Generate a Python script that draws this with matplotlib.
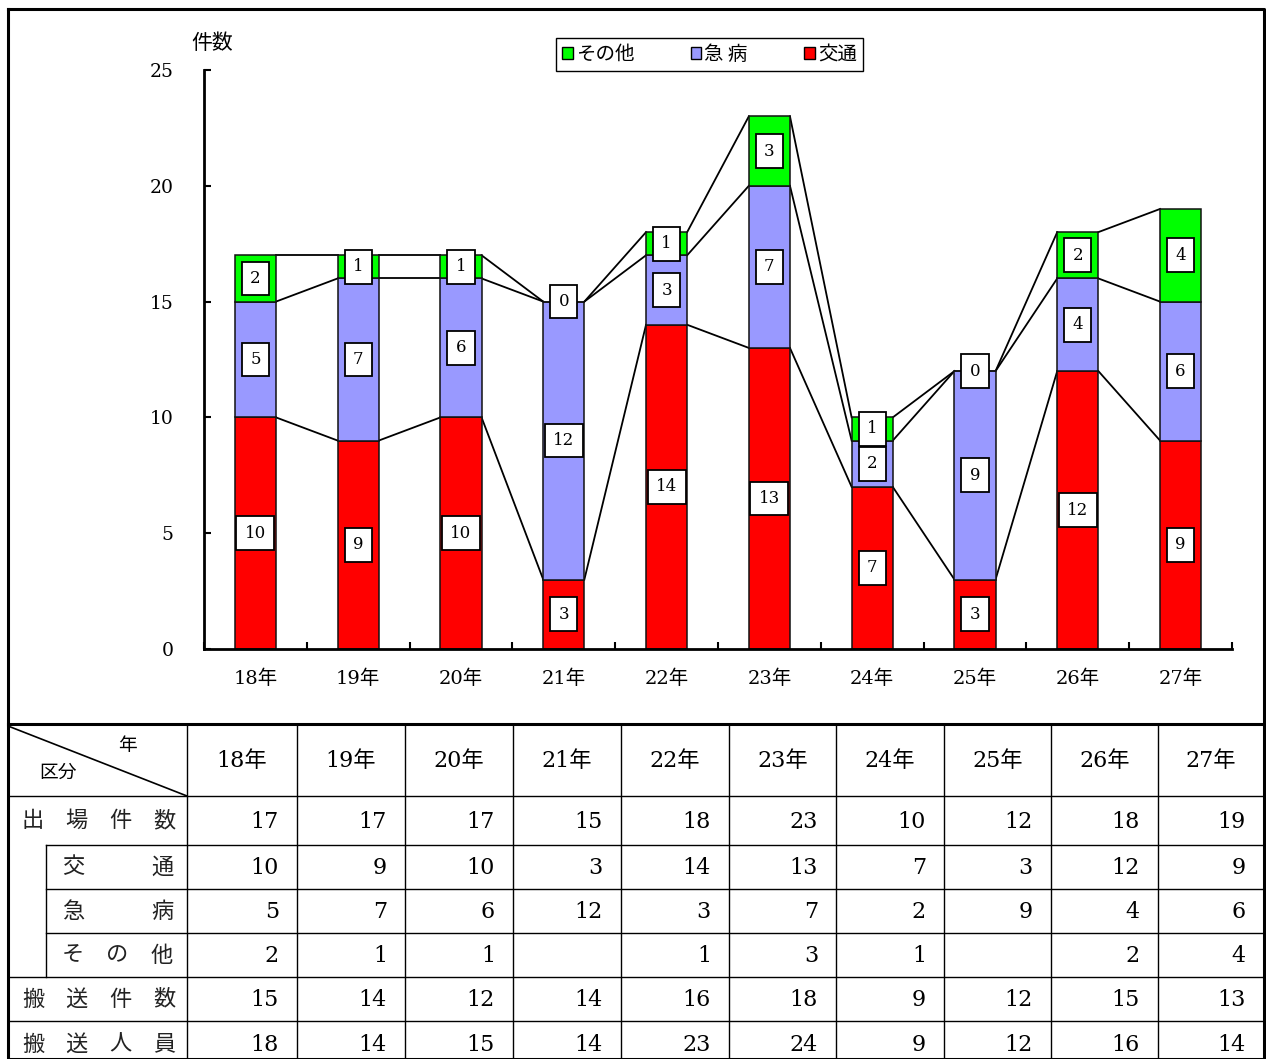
import matplotlib.pyplot as plt
from matplotlib.patches import Patch

plt.rcParams['font.family'] = ['DejaVu Serif', 'Noto Sans CJK JP']

years = ['18年', '19年', '20年', '21年', '22年', '23年', '24年', '25年', '26年', '27年']
traffic = [10, 9, 10, 3, 14, 13, 7, 3, 12, 9]
illness = [5, 7, 6, 12, 3, 7, 2, 9, 4, 6]
other = [2, 1, 1, 0, 1, 3, 1, 0, 2, 4]
dispatch_total = [17, 17, 17, 15, 18, 23, 10, 12, 18, 19]
transport_cases = [15, 14, 12, 14, 16, 18, 9, 12, 15, 13]
transport_people = [18, 14, 15, 14, 23, 24, 9, 12, 16, 14]

RED = '#FF0000'
BLUE = '#9999FF'
GREEN = '#00FF00'

W, H = 1266, 1059
fig = plt.figure(figsize=(W / 100, H / 100), dpi=100)

# ---- グラフ部分 ----
ax_left, ax_right, ax_top, ax_bottom = 204, 1232, 70, 649
ax = fig.add_axes([ax_left / W, 1 - ax_bottom / H,
                   (ax_right - ax_left) / W, (ax_bottom - ax_top) / H])

x = list(range(len(years)))
width = 0.4
base2 = [a + b for a, b in zip(traffic, illness)]
top = [a + b for a, b in zip(base2, other)]

series = [(traffic, [0] * len(x), RED, '交通'),
          (illness, traffic, BLUE, '急 病'),
          (other, base2, GREEN, 'その他')]
for vals, bottoms, color, name in series:
    ax.bar(x, vals, width, bottom=bottoms, color=color,
           edgecolor='#111111', linewidth=1.1, zorder=2)
    for xi, v, b in zip(x, vals, bottoms):
        ax.text(xi, b + v / 2, str(v), ha='center', va='center', fontsize=12,
                zorder=4,
                bbox=dict(boxstyle='square,pad=0.5', fc='white', ec='black', lw=1.3))

# 区分線（各系列の上端を結ぶ）
for levels in (traffic, base2, top):
    for i in range(len(x) - 1):
        ax.plot([x[i] + width / 2, x[i + 1] - width / 2],
                [levels[i], levels[i + 1]], color='black', lw=1.3, zorder=1)

ax.set_xlim(-0.5, len(x) - 0.5)
ax.set_ylim(0, 25)
ax.set_yticks([0, 5, 10, 15, 20, 25])
ax.set_xticks(x)
ax.set_xticklabels(years, fontsize=14)
ax.set_xticks([i - 0.5 for i in range(len(x) + 1)], minor=True)
ax.tick_params(axis='x', which='major', length=0, pad=15)
ax.tick_params(axis='x', which='minor', direction='in', length=5, width=1.5)
ax.tick_params(axis='y', direction='in', length=5, width=1.5, labelsize=13.5, pad=22)
for side in ('top', 'right'):
    ax.spines[side].set_visible(False)
for side in ('left', 'bottom'):
    ax.spines[side].set_linewidth(2)

handles = [Patch(fc=GREEN, ec='black', label='その他'),
           Patch(fc=BLUE, ec='black', label='急 病'),
           Patch(fc=RED, ec='black', label='交通')]
fig.legend(handles=handles, loc='upper center', ncol=3,
           bbox_to_anchor=(709.5 / W, 1 - 38 / H),
           prop={'family': ['Noto Sans CJK JP'], 'size': 14},
           handlelength=0.55, handleheight=0.55, handletextpad=0.15,
           columnspacing=2.9, fancybox=False, edgecolor='black',
           framealpha=1, borderpad=0.3, borderaxespad=0)

# ---- 外枠と表（ピクセル座標） ----
ov = fig.add_axes([0, 0, 1, 1], facecolor='none')
ov.set_xlim(0, W)
ov.set_ylim(H, 0)
ov.axis('off')

ov.text(212, 43, '件数', ha='center', va='center', fontsize=15,
        family=['Noto Sans CJK JP'])

# グラフ外枠
ov.plot([8, 1264, 1264, 8, 8], [9, 9, 1059, 1059, 9], color='black', lw=2.2)
ov.plot([8, 1264], [724, 724], color='black', lw=2.2)

col_edges = [187, 297, 405, 513, 621, 729, 836, 944, 1051, 1158, 1264]
row_edges = [724, 796, 845, 889, 933, 977, 1021, 1067]

for cx in col_edges[:-1]:
    ov.plot([cx, cx], [724, 1059], color='black', lw=1)
for i, ry in enumerate(row_edges[1:-1], start=1):
    x0 = 46 if i in (2, 3, 4) else 8
    ov.plot([x0, 1264], [ry, ry], color='black', lw=1)
ov.plot([46, 46], [845, 977], color='black', lw=1)

# 見出しセル
ov.plot([8, 187], [726, 796], color='black', lw=1.2)
ov.text(127, 746, '年', ha='center', va='center', fontsize=13.5,
        family=['Noto Sans CJK JP'])
ov.text(58, 772, '区分', ha='center', va='center', fontsize=13.5,
        family=['Noto Sans CJK JP'])

for j, yr in enumerate(years):
    cx = (col_edges[j] + col_edges[j + 1]) / 2
    ov.text(cx, 761, yr, ha='center', va='center', fontsize=16)

row_labels = [('出場件数', 22, 175), ('交通', 62, 173), ('急病', 62, 173),
              ('その他', 62, 173), ('搬送件数', 22, 175), ('搬送人員', 22, 175)]
other_cells = [str(v) if v else '' for v in other]
row_values = [dispatch_total, traffic, illness, other_cells,
              transport_cases, transport_people]

for r, ((label, lx0, lx1), vals) in enumerate(zip(row_labels, row_values)):
    cy = (row_edges[r + 1] + row_edges[r + 2]) / 2 if r < 5 else 1044
    n = len(label)
    step = (lx1 - lx0 - 22) / (n - 1)
    for k, ch in enumerate(label):
        ov.text(lx0 + 11 + k * step, cy, ch, ha='center', va='center',
                fontsize=16, family=['Noto Sans CJK JP'], color='#222222')
    for j, v in enumerate(vals):
        ov.text(col_edges[j + 1] - 18, cy + 1, str(v), ha='right', va='center',
                fontsize=16)

fig.savefig('out.png', dpi=100)
